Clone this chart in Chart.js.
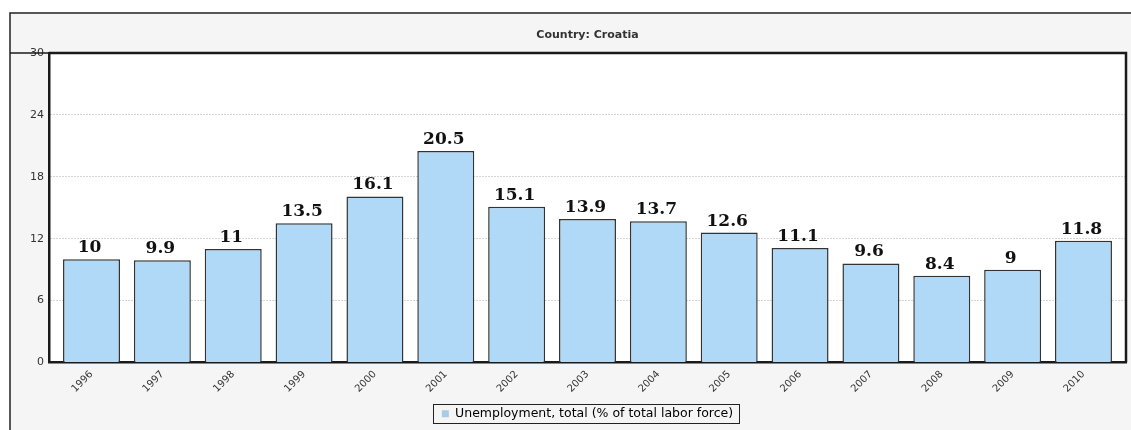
<!DOCTYPE html>
<html>
<head>
<meta charset="utf-8">
<script src="https://cdn.jsdelivr.net/npm/chart.js@4.4.0/dist/chart.umd.min.js"></script>
<style>
  html, body { margin: 0; padding: 0; background: #fff; }
  #wrap { width: 1131px; height: 430px; }
</style>
</head>
<body>
<div id="wrap"><canvas id="unemployment" width="1131" height="430"></canvas></div>
<script>
const years = ['1996','1997','1998','1999','2000','2001','2002','2003','2004','2005','2006','2007','2008','2009','2010']
const unemployment = [10, 9.9, 11, 13.5, 16.1, 20.5, 15.1, 13.9, 13.7, 12.6, 11.1, 9.6, 8.4, 9, 11.8]
const yTicks = [0, 6, 12, 18, 24, 30]
const seriesName = 'Unemployment, total (% of total labor force)'
const chartTitle = 'Country: Croatia'

// bars sit on a numeric x axis so the end gaps can be set with min/max
const points = unemployment.map((v, i) => ({ x: i, y: v }))

// grey panel with a frame line on top and left, white plot area
const panel = {
    id: 'panel',
    beforeDraw(chart) {
        const c = chart.ctx
        const a = chart.chartArea
        c.save()
        c.fillStyle = '#ffffff'
        c.fillRect(0, 0, chart.width, chart.height)
        c.fillStyle = '#f5f5f5'
        c.fillRect(10, 13, chart.width - 10, chart.height - 13)
        c.strokeStyle = '#222'
        c.lineWidth = 1.5
        c.beginPath()
        c.moveTo(10, chart.height)
        c.lineTo(10, 13)
        c.lineTo(chart.width, 13)
        c.stroke()
        c.fillStyle = '#ffffff'
        c.fillRect(a.left, a.top, a.right - a.left, a.bottom - a.top)
        c.restore()
    },
    afterDatasetsDraw(chart) {
        const c = chart.ctx
        const a = chart.chartArea
        c.save()
        c.strokeStyle = '#1a1a1a'
        c.lineWidth = 2.5
        c.beginPath()
        c.moveTo(a.left, a.top)
        c.lineTo(a.right, a.top)
        c.lineTo(a.right, a.bottom)
        c.stroke()
        c.lineWidth = 1.5
        c.beginPath()
        c.moveTo(10, a.top)
        c.lineTo(a.left, a.top)
        c.stroke()
        c.restore()
    },
    afterDraw(chart) {
        // box round the legend item
        const lg = chart.legend
        if (!lg || !lg.legendHitBoxes.length) return
        const h = lg.legendHitBoxes[0]
        const c = chart.ctx
        c.save()
        c.strokeStyle = '#222'
        c.lineWidth = 1
        c.strokeRect(Math.round(h.left - 9) + 0.5, Math.round(h.top - 4) + 0.5, Math.round(h.width + 15), Math.round(h.height + 6))
        c.restore()
    }
}

// value printed above each bar
const barValues = {
    id: 'barValues',
    afterDatasetsDraw(chart) {
        const c = chart.ctx
        const meta = chart.getDatasetMeta(0)
        c.save()
        c.font = 'bold 17px "DejaVu Serif"'
        c.fillStyle = '#111'
        c.textAlign = 'center'
        c.textBaseline = 'alphabetic'
        meta.data.forEach((bar, i) => {
            c.fillText(String(unemployment[i]), bar.x - 2, bar.y - 7)
        })
        c.restore()
    }
}

const ctx = document.getElementById('unemployment').getContext('2d')

new Chart(ctx, {
    type: 'bar',
    data: {
        datasets: [{
            label: seriesName,
            data: points,
            backgroundColor: '#b0d8f7',
            borderColor: '#333333',
            borderWidth: 1.5,
            categoryPercentage: 0.804,
            barPercentage: 1.0
        }]
    },
    options: {
        responsive: false,
        animation: false,
        layout: { padding: { left: 10, top: 13, right: 5, bottom: 0 } },
        scales: {
            x: {
                type: 'linear',
                min: -0.6,
                max: 14.6,
                offset: false,
                afterBuildTicks(scale) { scale.ticks = years.map((y, i) => ({ value: i })) },
                grid: { display: false, drawTicks: false },
                border: { display: true, color: '#1a1a1a', width: 2.5 },
                ticks: {
                    color: '#333',
                    font: { family: '"DejaVu Sans"', size: 10 },
                    maxRotation: 45,
                    minRotation: 45,
                    padding: 6,
                    callback: (v) => years[v]
                },
                afterFit(scale) { scale.height = 37 }
            },
            y: {
                min: 0,
                max: 30,
                afterBuildTicks(scale) { scale.ticks = yTicks.map(v => ({ value: v })) },
                grid: {
                    color: '#a8a8a8',
                    drawTicks: false
                },
                border: { display: true, color: '#1a1a1a', width: 2.5, dash: [1, 2] },
                ticks: {
                    color: '#333',
                    font: { family: '"DejaVu Sans"', size: 11 },
                    padding: 5
                },
                afterFit(scale) { scale.width = 39 }
            }
        },
        plugins: {
            title: {
                display: true,
                fullSize: false,
                text: chartTitle,
                color: '#333',
                font: { family: '"DejaVu Sans"', size: 11, weight: 'bold', lineHeight: 1.2 },
                padding: { top: 15.5, bottom: 11.3 }
            },
            legend: {
                display: true,
                fullSize: false,
                position: 'bottom',
                labels: {
                    color: '#222',
                    font: { family: '"DejaVu Sans"', size: 12.5 },
                    boxWidth: 7,
                    boxHeight: 7,
                    padding: 8,
                    generateLabels(chart) {
                        return [{
                            text: seriesName,
                            fillStyle: '#a9cbe6',
                            strokeStyle: '#a9cbe6',
                            lineWidth: 0,
                            datasetIndex: 0
                        }]
                    }
                }
            },
            tooltip: { enabled: false }
        }
    },
    plugins: [panel, barValues]
})
</script>
</body>
</html>
